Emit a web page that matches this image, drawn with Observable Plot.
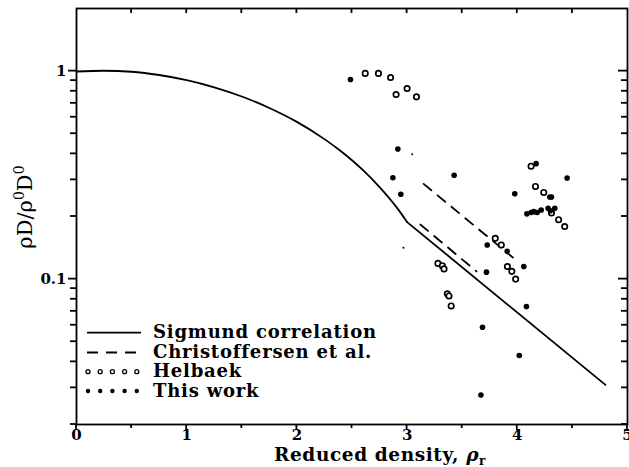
<!DOCTYPE html>
<html><head><meta charset="utf-8">
<script src="https://cdn.jsdelivr.net/npm/d3@7"></script>
<script src="https://cdn.jsdelivr.net/npm/@observablehq/plot@0.6"></script>
<style>
body{margin:0;background:#fff;}
#wrap{position:relative;width:629px;height:467px;background:#fff;}
</style></head><body><div id="wrap"></div>
<script>
// Sigmund correlation
const sigmundX = [0, 0.25, 0.5, 0.75, 1, 1.25, 1.5, 1.75, 2, 2.25, 2.4, 2.5, 2.6, 2.75, 2.9, 3, 4.8];
const sigmundY = [0.996, 1.004, 0.993, 0.958, 0.905, 0.836, 0.755, 0.665, 0.570, 0.471, 0.412, 0.373, 0.334, 0.277, 0.223, 0.188, 0.031];
// Christoffersen et al. (two dashed segments)
const chrisUpperX = [3.15, 3.96];
const chrisUpperY = [0.287, 0.127];
const chrisLowerX = [3.12, 3.63];
const chrisLowerY = [0.183, 0.109];
// Helbaek (open circles)
const helbaekX = [2.62, 2.74, 2.85, 2.90, 3.00, 3.085, 3.28, 3.32, 3.335, 3.365, 3.38, 3.40, 3.80, 3.855, 3.91, 3.95, 3.985, 4.125, 4.165, 4.24, 4.31, 4.375, 4.43];
const helbaekY = [0.975, 0.975, 0.932, 0.772, 0.825, 0.752, 0.119, 0.116, 0.112, 0.085, 0.083, 0.0743, 0.157, 0.146, 0.115, 0.109, 0.100, 0.349, 0.279, 0.261, 0.208, 0.193, 0.179];
// This work (filled circles)
const thisX = [2.486, 2.916, 2.871, 2.943, 3.427, 3.727, 3.72, 3.684, 3.67, 3.908, 3.977, 4.059, 4.083, 4.018, 4.087, 4.126, 4.15, 4.18, 4.217, 4.28, 4.30, 4.34, 4.295, 4.31, 4.171, 4.452];
const thisY = [0.912, 0.422, 0.307, 0.256, 0.316, 0.146, 0.108, 0.0587, 0.0277, 0.136, 0.257, 0.115, 0.0738, 0.0429, 0.206, 0.209, 0.211, 0.209, 0.215, 0.219, 0.213, 0.219, 0.248, 0.248, 0.359, 0.306];
// small specks
const speckX = [3.046, 2.967];
const speckY = [0.398, 0.1416];
// ticks
const xMajor = [0, 1, 2, 3, 4, 5];
const xMinor = [0.5, 1.5, 2.5, 3.5, 4.5];
const yMajor = [0.1, 1];
const yMinor = [0.02, 0.03, 0.04, 0.05, 0.06, 0.07, 0.08, 0.09, 0.2, 0.3, 0.4, 0.5, 0.6, 0.7, 0.8, 0.9];
const legendLabels = ["Sigmund correlation", "Christoffersen et al.", "Helbaek", "This work"];

const zip = (xs, ys) => xs.map((x, i) => ({x, y: ys[i]}));
const sigmund = zip(sigmundX, sigmundY);
const sigmundCurve = sigmund.filter(d => d.x <= 3);
const sigmundTail = sigmund.filter(d => d.x >= 3);
const chrisU = zip(chrisUpperX, chrisUpperY);
const chrisL = zip(chrisLowerX, chrisLowerY);
const helbaek = zip(helbaekX, helbaekY);
const thiswork = zip(thisX, thisY);
const specks = zip(speckX, speckY);

const FONT = "DejaVu Serif";

const chart = Plot.plot({
  width: 629, height: 467,
  marginLeft: 76, marginRight: 2, marginTop: 8, marginBottom: 43,
  style: {fontFamily: FONT, fontSize: "15px", fontWeight: "bold", background: "white", color: "black", overflow: "visible"},
  x: {domain: [0, 5]},
  y: {type: "log", domain: [0.02, 2]},
  marks: [
    Plot.axisX({ticks: xMajor, tickSize: 0, tickPadding: 5, tickFormat: d => d, label: null}),
    Plot.axisY({ticks: yMajor, tickSize: 0, tickPadding: 10, tickFormat: d => d, label: null}),
    Plot.frame({stroke: "black", strokeWidth: 1.8}),
    Plot.line(sigmundCurve, {x: "x", y: "y", stroke: "black", strokeWidth: 1.8, curve: "monotone-x"}),
    Plot.line(sigmundTail, {x: "x", y: "y", stroke: "black", strokeWidth: 1.8}),
    Plot.line(chrisU, {x: "x", y: "y", stroke: "black", strokeWidth: 1.8, strokeDasharray: "10,8"}),
    Plot.line(chrisL, {x: "x", y: "y", stroke: "black", strokeWidth: 1.8, strokeDasharray: "10,8"}),
    Plot.dot(helbaek, {x: "x", y: "y", r: 2.7, stroke: "black", strokeWidth: 1.7, fill: "white"}),
    Plot.dot(thiswork, {x: "x", y: "y", r: 2.8, fill: "black", stroke: "none"}),
    Plot.dot(specks, {x: "x", y: "y", r: 1, fill: "black", stroke: "none"})
  ]
});
chart.style.display = "block";
document.getElementById("wrap").appendChild(chart);

const sx = chart.scale("x"), sy = chart.scale("y");
const X = v => sx.apply(v), Y = v => sy.apply(v);
const x0 = X(0), x1 = X(5), y0 = Y(0.02), y1 = Y(2);
const svg = d3.select(chart);
const tk = svg.append("g");
function seg(xa, ya, xb, yb) {
  tk.append("path").attr("d", `M${xa},${ya}L${xb},${yb}`).attr("stroke", "black").attr("stroke-width", 1.8).attr("fill", "none");
}
// bottom (outward) and top (inward) ticks
xMajor.forEach(v => {
  seg(X(v), y0, X(v), y0 + 6);
  if (v > 0 && v < 5) seg(X(v), y1, X(v), y1 + 5);
});
xMinor.forEach(v => {
  seg(X(v), y0, X(v), y0 + 4);
  seg(X(v), y1, X(v), y1 + 5);
});
// left (outward) and right (inward) ticks
yMajor.forEach(v => {
  seg(x0 - 8, Y(v), x0, Y(v));
  seg(x1 - 9, Y(v), x1, Y(v));
});
yMinor.forEach(v => {
  seg(x0 - 6, Y(v), x0, Y(v));
  seg(x1 - 6, Y(v), x1, Y(v));
});

// y-axis label
const yl = svg.append("text")
  .attr("transform", "translate(32,207) rotate(-90)")
  .attr("text-anchor", "middle")
  .attr("font-family", FONT).attr("font-size", 21).attr("font-weight", "normal").attr("fill", "black");
yl.append("tspan").text("ρD/ρ");
yl.append("tspan").attr("dy", -8).attr("font-size", 14).text("0");
yl.append("tspan").attr("dy", 8).text("D");
yl.append("tspan").attr("dy", -8).attr("font-size", 14).text("0");

// x-axis label
const xl = svg.append("text")
  .attr("x", 380).attr("y", 461)
  .attr("text-anchor", "middle")
  .attr("font-family", FONT).attr("font-size", 18.5).attr("font-weight", "bold").attr("letter-spacing", 0.6).attr("fill", "black");
xl.append("tspan").text("Reduced density, ");
xl.append("tspan").attr("font-style", "italic").text("ρ");
xl.append("tspan").attr("dy", 4).attr("font-size", 12).text("r");

// legend
const lg = svg.append("g").attr("font-family", FONT).attr("font-size", 18).attr("font-weight", "bold").attr("letter-spacing", 0.8).attr("fill", "black").attr("text-anchor", "start");
const rows = [332.7, 352.5, 371.7, 391];
lg.append("line").attr("x1", 87).attr("x2", 141).attr("y1", rows[0]).attr("y2", rows[0]).attr("stroke", "black").attr("stroke-width", 1.8);
lg.append("line").attr("x1", 87).attr("x2", 141).attr("y1", rows[1]).attr("y2", rows[1]).attr("stroke", "black").attr("stroke-width", 1.8).attr("stroke-dasharray", "11,8");
for (let i = 0; i < 5; i++) {
  lg.append("circle").attr("cx", 88 + i * 12.2).attr("cy", rows[2]).attr("r", 2).attr("fill", "white").attr("stroke", "black").attr("stroke-width", 1.3);
  lg.append("circle").attr("cx", 88 + i * 12.2).attr("cy", rows[3]).attr("r", 2.2).attr("fill", "black");
}
legendLabels.forEach((t, i) => {
  lg.append("text").attr("x", 153).attr("y", rows[i] + 5.5).attr("text-anchor", "start").text(t);
});
</script>
</body></html>
